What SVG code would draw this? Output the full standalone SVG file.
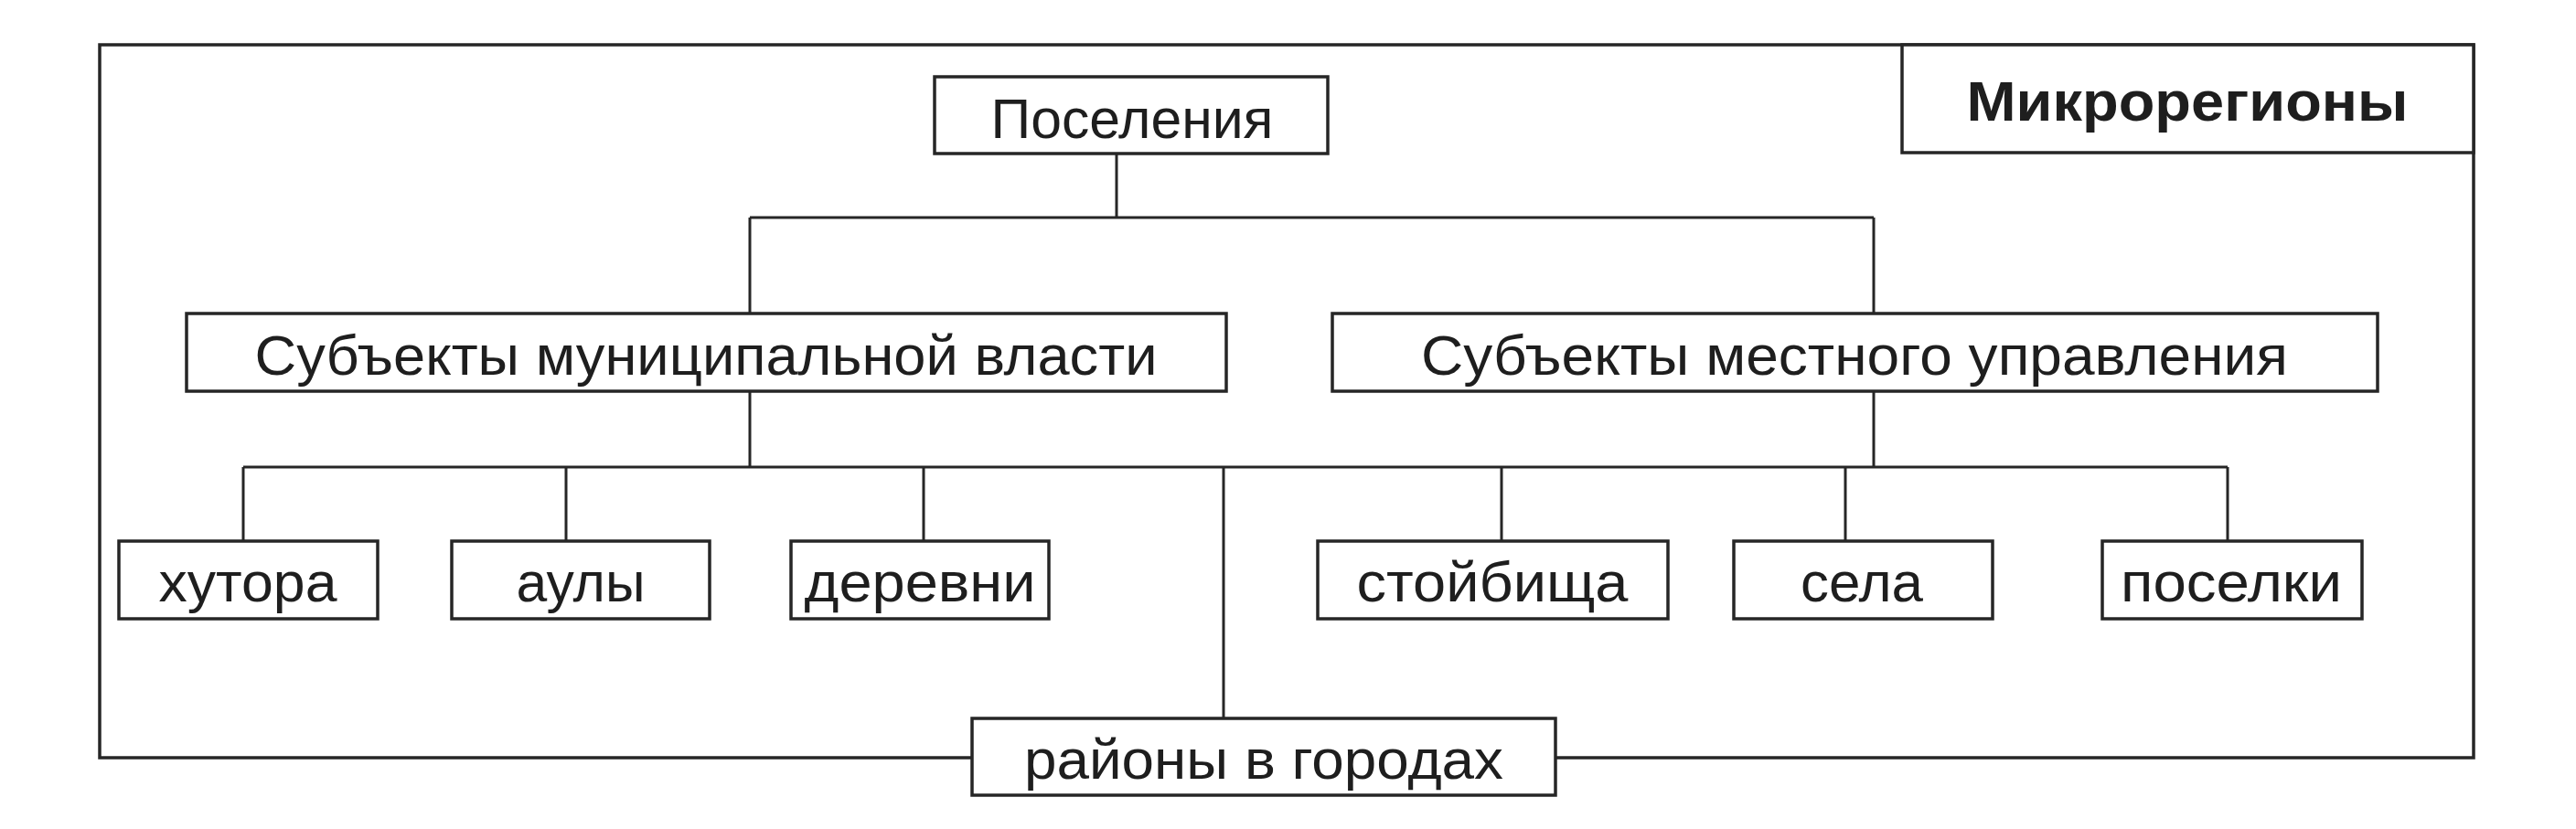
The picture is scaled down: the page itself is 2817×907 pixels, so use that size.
<svg xmlns="http://www.w3.org/2000/svg" width="2817" height="907" viewBox="0 0 2817 907">
<style>
.box{fill:#ffffff;stroke:#262626;stroke-width:3.5}
.frame{fill:none;stroke:#262626;stroke-width:3.5}
.conn{fill:none;stroke:#262626;stroke-width:3}
.t{font-family:"Liberation Sans",Arial,sans-serif;font-size:61px;fill:#1e1e1e;text-anchor:middle}
.b{font-weight:bold}
</style>
<rect width="2817" height="907" fill="#ffffff"/>
<rect class="frame" x="109" y="49" width="2596" height="780"/>
<g id="connectors">
<path class="conn" d="M1221,168 V238 M820,238 H2049 M820,238 V343 M2049,238 V343"/>
<path class="conn" d="M820,428 V511 M2049,428 V511 M266,511 H2436"/>
<path class="conn" d="M266,511 V592 M619,511 V592 M1010,511 V592 M1642,511 V592 M2018,511 V592 M2436,511 V592 M1338,511 V786"/>
</g>
<g id="mikroregiony"><rect class="box" x="2080" y="49" width="625" height="118"/><text class="t b" x="2392" y="132" textLength="483" lengthAdjust="spacingAndGlyphs">Микрорегионы</text></g>
<g id="poseleniya"><rect class="box" x="1022" y="84" width="430" height="84"/><text class="t" x="1238" y="151" textLength="309" lengthAdjust="spacingAndGlyphs">Поселения</text></g>
<g id="municipal"><rect class="box" x="204" y="343" width="1137" height="85"/><text class="t" x="772" y="410" textLength="987" lengthAdjust="spacingAndGlyphs">Субъекты муниципальной власти</text></g>
<g id="local"><rect class="box" x="1457" y="343" width="1143" height="85"/><text class="t" x="2028" y="410" textLength="948" lengthAdjust="spacingAndGlyphs">Субъекты местного управления</text></g>
<g id="khutora"><rect class="box" x="130" y="592" width="283" height="85"/><text class="t" x="271" y="658" textLength="195" lengthAdjust="spacingAndGlyphs">хутора</text></g>
<g id="auly"><rect class="box" x="494" y="592" width="282" height="85"/><text class="t" x="635" y="658" textLength="141" lengthAdjust="spacingAndGlyphs">аулы</text></g>
<g id="derevni"><rect class="box" x="865" y="592" width="282" height="85"/><text class="t" x="1006" y="658" textLength="253" lengthAdjust="spacingAndGlyphs">деревни</text></g>
<g id="stoybishcha"><rect class="box" x="1441" y="592" width="383" height="85"/><text class="t" x="1632" y="658" textLength="297" lengthAdjust="spacingAndGlyphs">стойбища</text></g>
<g id="sela"><rect class="box" x="1896" y="592" width="283" height="85"/><text class="t" x="2036" y="658" textLength="134" lengthAdjust="spacingAndGlyphs">села</text></g>
<g id="poselki"><rect class="box" x="2299" y="592" width="284" height="85"/><text class="t" x="2440" y="658" textLength="242" lengthAdjust="spacingAndGlyphs">поселки</text></g>
<g id="rayony"><rect class="box" x="1063" y="786" width="638" height="84"/><text class="t" x="1382" y="852" textLength="524" lengthAdjust="spacingAndGlyphs">районы в городах</text></g>
</svg>
